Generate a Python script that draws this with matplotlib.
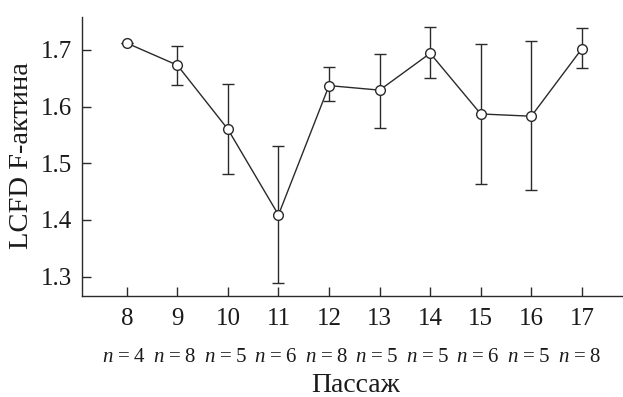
import matplotlib
matplotlib.use("Agg")
import matplotlib.pyplot as plt
import matplotlib.transforms as mtransforms
import numpy as np

passages = [8, 9, 10, 11, 12, 13, 14, 15, 16, 17]
n_counts = [4, 8, 5, 6, 8, 5, 5, 6, 5, 8]
lcfd = [1.712, 1.673, 1.560, 1.409, 1.637, 1.629, 1.694, 1.587, 1.583, 1.702]
err_upper = [1.712, 1.707, 1.640, 1.530, 1.669, 1.693, 1.740, 1.711, 1.715, 1.738]
err_lower = [1.712, 1.638, 1.481, 1.288, 1.609, 1.562, 1.650, 1.464, 1.453, 1.668]

plt.rcParams['font.family'] = ['Liberation Serif', 'DejaVu Serif']
plt.rcParams['mathtext.fontset'] = 'custom'
plt.rcParams['mathtext.rm'] = 'Liberation Serif'
plt.rcParams['mathtext.it'] = 'Liberation Serif:italic'

fig = plt.figure(figsize=(6.23, 3.97), dpi=100)
ax = fig.add_axes([0.1321, 0.2552, 0.866, 0.702])

col = '#2a2a2a'
txtcol = '#1a1a1a'
y = np.array(lcfd)
yerr = np.array([y - np.array(err_lower), np.array(err_upper) - y])
ax.errorbar(passages, y, yerr=yerr, fmt='none', ecolor=col, elinewidth=1.0,
            capsize=4.5, capthick=1.0, zorder=1)
ax.plot(passages, y, '-o', color=col, lw=1.0, markersize=7,
        markerfacecolor='white', markeredgecolor=col, markeredgewidth=1.0, zorder=3)

ax.set_xlim(7.12, 17.79)
ax.set_ylim(1.2665, 1.758)
ax.set_xticks(passages)
ax.set_xticklabels([str(p) for p in passages])
ax.set_yticks([1.3, 1.4, 1.5, 1.6, 1.7])
ax.set_yticklabels(['1.3', '1.4', '1.5', '1.6', '1.7'])

for s in ['top', 'right']:
    ax.spines[s].set_visible(False)
for s in ['left', 'bottom']:
    ax.spines[s].set_color(col)
    ax.spines[s].set_linewidth(1.0)

ax.tick_params(direction='in', length=6.5, width=1.0, color=col,
               labelsize=18, labelcolor=txtcol)
ax.tick_params(axis='x', pad=9)
ax.tick_params(axis='y', pad=7)

fig.text(22 / 623, 1 - 156 / 397, 'LCFD F-актина', rotation=90,
         ha='center', va='center', fontsize=20.5, color=txtcol)

trans = mtransforms.blended_transform_factory(ax.transData, fig.transFigure)
for p, n in zip(passages, n_counts):
    ax.text(p - 0.05, 1 - 357 / 397,
            r'$n\hspace{0.12}=\hspace{0.12}%d$' % n, transform=trans,
            ha='center', va='center', fontsize=15, color=txtcol)

fig.text(356 / 623, 1 - 385 / 397, 'Пассаж', ha='center', va='center',
         fontsize=20, color=txtcol)

fig.savefig('out.png', dpi=100)
